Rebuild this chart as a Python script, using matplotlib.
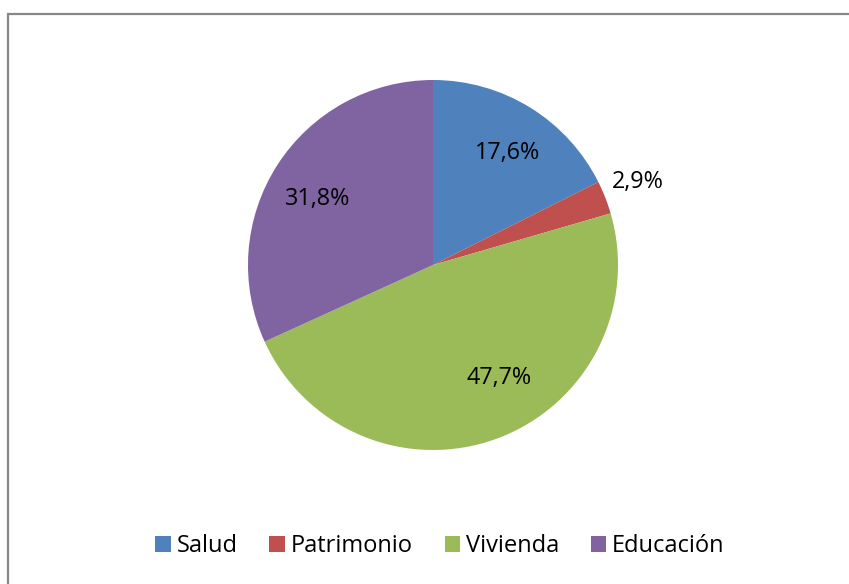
import numpy as np
import matplotlib
matplotlib.use("Agg")
import matplotlib.pyplot as plt
from matplotlib.patches import Rectangle

categorias = ["Salud", "Patrimonio", "Vivienda", "Educación"]
valores = [17.6, 2.9, 47.7, 31.8]
colores = ["#4F81BD", "#C0504D", "#9BBB59", "#8064A2"]

# label positions (in pie radius units), as Excel placed them
pos_etiquetas = [(0.405, 0.605), (1.108, 0.448), (0.357, -0.61), (-0.622, 0.357)]

plt.rcParams['font.family'] = ['Open Sans', 'DejaVu Sans']

W, H = 849, 584
fig = plt.figure(figsize=(W / 100, H / 100), dpi=100)

# pie centre and radius in pixels
cx, cy, r = 433, 265, 185
ax = fig.add_axes([(cx - r) / W, (H - cy - r) / H, 2 * r / W, 2 * r / H])

wedges, textos = ax.pie(valores, colors=colores, startangle=90, counterclock=False,
                        radius=1, wedgeprops=dict(linewidth=0))
ax.set_xlim(-1, 1)
ax.set_ylim(-1, 1)
ax.set_aspect('equal')
ax.axis('off')

for (px, py), v in zip(pos_etiquetas, valores):
    etiqueta = f"{v:.1f}".replace('.', ',') + '%'
    ax.text(px, py, etiqueta, ha='center', va='center', fontsize=16.8, color='black')

fig.legend(wedges, categorias, loc='center', bbox_to_anchor=(440 / W, 1 - 546 / H),
           ncol=4, frameon=False, fontsize=17, handlelength=0.65, handleheight=0.65,
           handletextpad=0.25, columnspacing=1.35)

# outer chart border (cut off at right and bottom)
fig.patches.append(Rectangle((7.5 / W, -0.1), 1.1, 1.1 - 14 / H, transform=fig.transFigure,
                             fill=False, edgecolor='#878787', linewidth=1.6))

fig.savefig("out.png", dpi=100)
